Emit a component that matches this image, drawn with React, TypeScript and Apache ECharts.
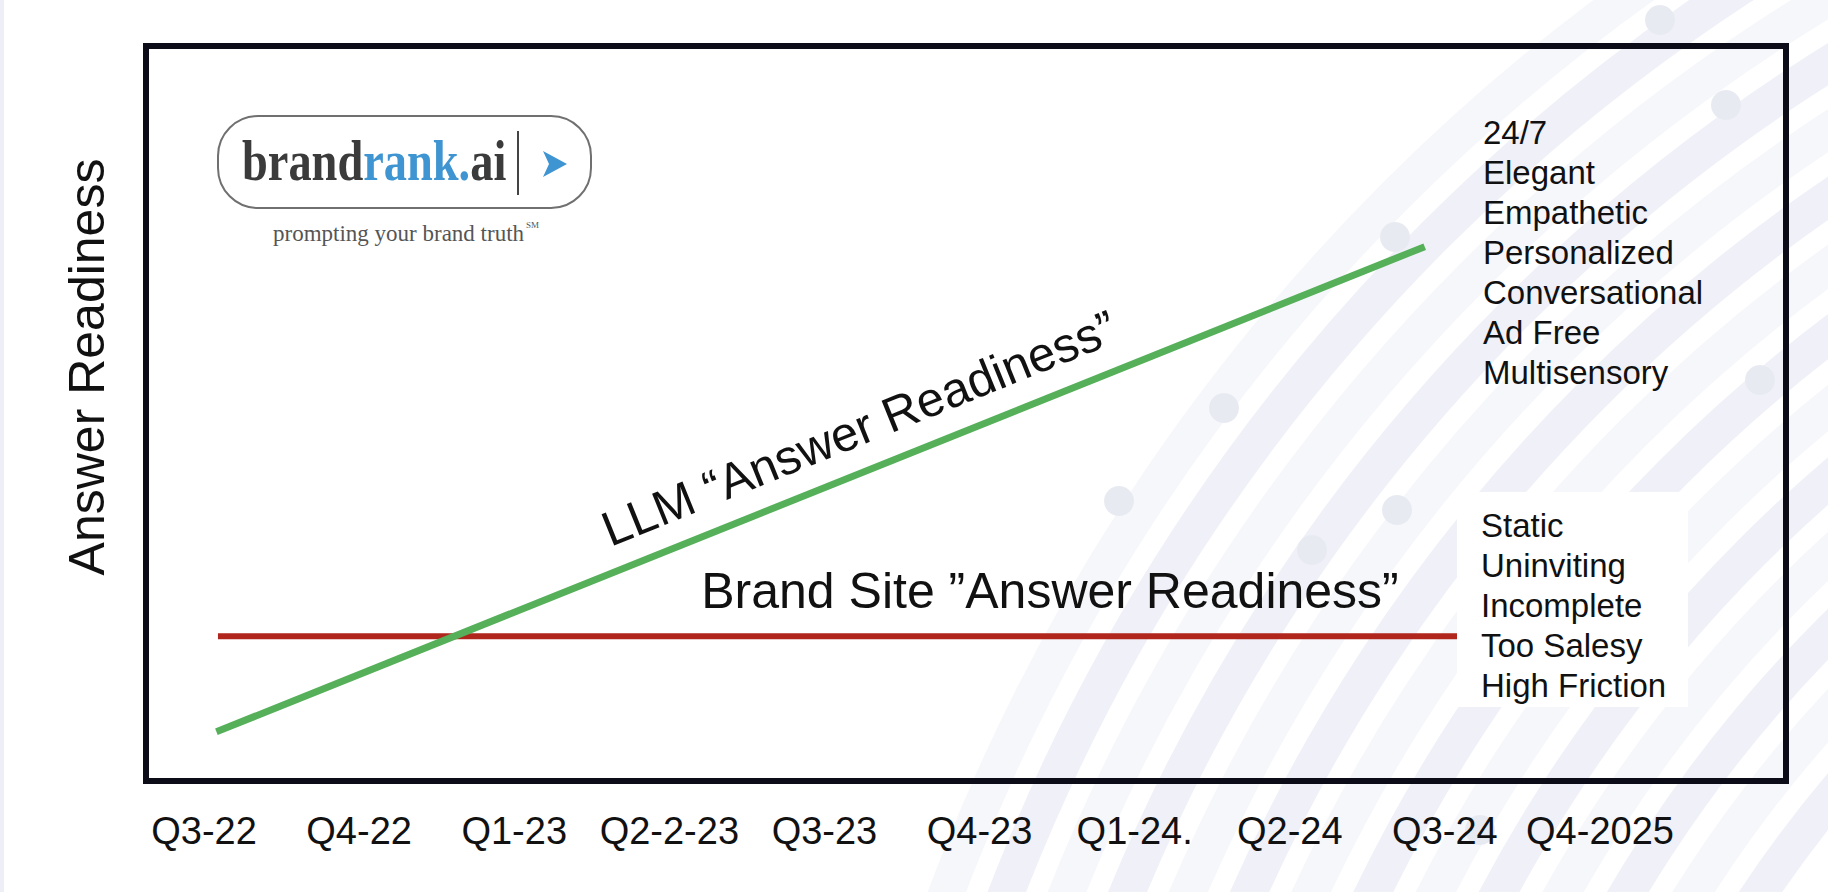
import React, { useEffect, useRef } from "react";
import * as echarts from "echarts";

const quarters = ["Q3-22", "Q4-22", "Q1-23", "Q2-2-23", "Q3-23", "Q4-23", "Q1-24.", "Q2-24", "Q3-24", "Q4-2025"];
const llmX = [0.08, 7.87];
const llmY = [6.7, 72.7];
const brandX = [0.09, 8.08];
const brandY = [19.7, 19.7];
const llmTraits = ["24/7", "Elegant", "Empathetic", "Personalized", "Conversational", "Ad Free", "Multisensory"];
const brandTraits = ["Static", "Uninviting", "Incomplete", "Too Salesy", "High Friction"];

const SANS = "'Liberation Sans', Arial, Helvetica, sans-serif";
const SERIF = "'Liberation Serif', 'Times New Roman', serif";

function bgGraphics(): any[] {
  const els: any[] = [];
  const cx = 2780, cy = 1580;
  let i = 0;
  for (let r = 1230; r <= 1960; r += 56) {
    els.push({
      type: "arc",
      silent: true,
      z: 0,
      shape: { cx, cy, r, startAngle: Math.PI, endAngle: Math.PI * 1.5 },
      style: { fill: null, stroke: i % 2 === 0 ? "#f0f1f8" : "#f6f7fb", lineWidth: 36 },
    });
    i++;
  }
  const dots = [
    [1119, 501], [1224, 408], [1312, 550], [1397, 510], [1395, 237], [1726, 105],
    [1660, 20], [1760, 380], [1560, 610], [1480, 830],
  ];
  dots.forEach(([x, y]) =>
    els.push({ type: "circle", silent: true, z: 0, shape: { cx: x, cy: y, r: 15 }, style: { fill: "#e8eaf2" } })
  );
  els.push({ type: "rect", silent: true, z: 0, shape: { x: 0, y: 0, width: 4, height: 892 }, style: { fill: "#eeeef6" } });
  return els;
}

export default function App() {
  const ref = useRef<HTMLDivElement>(null);
  useEffect(() => {
    if (!ref.current) return;
    const chart = echarts.init(ref.current, null, { renderer: "svg" });
    const option: any = {
      animation: false,
      backgroundColor: "#ffffff",
      grid: [
        { left: 146, top: 46, width: 1640, height: 735, show: true, borderColor: "#0c0c18", borderWidth: 6, backgroundColor: "transparent", z: 3 },
        { left: 204, right: 228, top: 46, bottom: 111, show: false },
      ],
      xAxis: [
        {
          type: "category",
          gridIndex: 1,
          data: quarters,
          boundaryGap: false,
          axisLine: { show: false },
          axisTick: { show: false },
          splitLine: { show: false },
          axisLabel: { fontSize: 38, color: "#111111", fontFamily: SANS, margin: 31, interval: 0 },
        },
        { type: "value", gridIndex: 1, min: 0, max: 9, show: false },
        { type: "value", gridIndex: 0, min: 0, max: 1, show: false },
      ],
      yAxis: [
        { type: "value", gridIndex: 1, min: 0, max: 100, show: false },
        { type: "value", gridIndex: 0, min: 0, max: 1, show: false },
      ],
      series: [
        {
          type: "line",
          name: "Brand Site",
          xAxisIndex: 1,
          yAxisIndex: 0,
          symbol: "none",
          z: 4,
          lineStyle: { color: "#b0261c", width: 6, cap: "butt" },
          data: brandX.map((x, k) => [x, brandY[k]]),
        },
        {
          type: "line",
          name: "LLM",
          xAxisIndex: 1,
          yAxisIndex: 0,
          symbol: "none",
          z: 5,
          lineStyle: { color: "#56b05a", width: 7, cap: "butt" },
          data: llmX.map((x, k) => [x, llmY[k]]),
        },
      ],
      graphic: [
        ...bgGraphics(),
        // logo
        {
          type: "rect",
          z: 10,
          shape: { x: 218, y: 116, width: 373, height: 92, r: 40 },
          style: { fill: "#ffffff", stroke: "#707070", lineWidth: 2 },
        },
        {
          type: "text",
          z: 11,
          x: 242,
          y: 160,
          scaleX: 0.8,
          style: {
            text: "{a|brand}{b|rank.}{a|ai}",
            align: "left",
            verticalAlign: "middle",
            rich: {
              a: { fill: "#3b3b3b", fontSize: 58, fontWeight: "bold", fontFamily: SERIF },
              b: { fill: "#3f95d1", fontSize: 58, fontWeight: "bold", fontFamily: SERIF },
            },
          },
        },
        { type: "line", z: 11, shape: { x1: 518, y1: 131, x2: 518, y2: 195 }, style: { stroke: "#444444", lineWidth: 2 } },
        {
          type: "polygon",
          z: 11,
          shape: { points: [[543, 151], [567, 164], [543, 177], [549, 164]] },
          style: { fill: "#3f95d1" },
        },
        {
          type: "text",
          z: 11,
          x: 273,
          y: 233,
          style: { text: "prompting your brand truth", fontSize: 23, fontFamily: SERIF, fill: "#555555", align: "left", verticalAlign: "middle" },
        },
        {
          type: "text",
          z: 11,
          x: 526,
          y: 225,
          style: { text: "SM", fontSize: 9, fontFamily: SERIF, fill: "#555555", align: "left", verticalAlign: "middle" },
        },
        // y-axis title
        {
          type: "text",
          z: 11,
          x: 87,
          y: 367,
          rotation: Math.PI / 2,
          style: { text: "Answer Readiness", fontSize: 50, fontFamily: SANS, fill: "#111111", align: "center", verticalAlign: "middle" },
        },
        // line labels
        {
          type: "text",
          z: 11,
          x: 859,
          y: 428,
          rotation: (22 * Math.PI) / 180,
          style: { text: "LLM \u201CAnswer Readiness\u201D", fontSize: 49, fontFamily: SANS, fill: "#111111", align: "center", verticalAlign: "middle" },
        },
        {
          type: "text",
          z: 11,
          x: 1050,
          y: 591,
          style: { text: "Brand Site \u201DAnswer Readiness\u201D", fontSize: 50, fontFamily: SANS, fill: "#111111", align: "center", verticalAlign: "middle" },
        },
        // trait lists
        {
          type: "text",
          z: 11,
          x: 1483,
          y: 112,
          style: { text: llmTraits.join("\n"), fontSize: 33, lineHeight: 40, fontFamily: SANS, fill: "#111111", align: "left", verticalAlign: "top" },
        },
        {
          type: "rect",
          z: 10,
          shape: { x: 1457, y: 492, width: 231, height: 215 },
          style: { fill: "#ffffff" },
        },
        {
          type: "text",
          z: 11,
          x: 1481,
          y: 505,
          style: { text: brandTraits.join("\n"), fontSize: 33, lineHeight: 40, fontFamily: SANS, fill: "#111111", align: "left", verticalAlign: "top" },
        },
      ],
    };
    chart.setOption(option);
    return () => chart.dispose();
  }, []);
  return <div ref={ref} style={{ position: "absolute", left: 0, top: 0, width: 1828, height: 892 }} />;
}
